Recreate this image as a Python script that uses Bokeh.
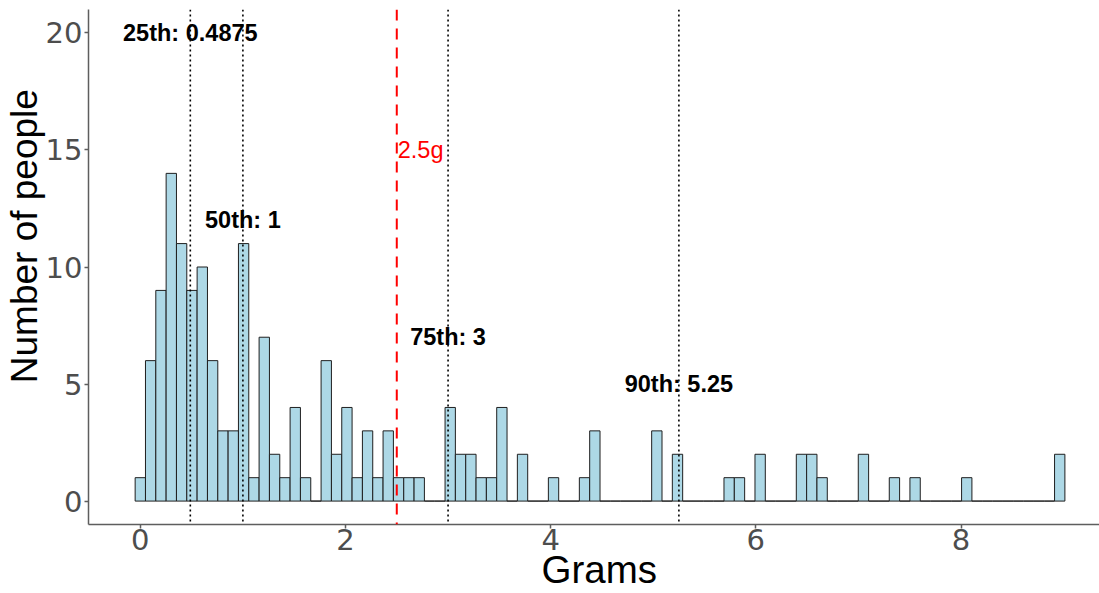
import numpy as np
from bokeh.plotting import figure
from bokeh.models import Span, Range1d
from bokeh.core.properties import value
from bokeh.embed import file_html
from bokeh.resources import INLINE

# ---- data ----
people = [1, 6, 9, 14, 11, 9, 10, 6, 3, 3, 11, 1, 7, 2, 1, 4, 1,
          0,
          6, 2, 4, 1, 3, 1, 3, 1, 1, 1,
          0, 0,
          4, 2, 2, 1, 1, 4, 0, 2,
          0, 0,
          1,
          0, 0,
          1, 3,
          0, 0, 0, 0, 0,
          3, 0, 2,
          0, 0, 0, 0,
          1, 1, 0, 2,
          0, 0, 0,
          2, 2, 1,
          0, 0, 0,
          2, 0, 0, 1, 0, 1,
          0, 0, 0, 0,
          1,
          0, 0, 0, 0, 0, 0, 0, 0,
          2]
bin_width = 0.1007
grams = np.arange(len(people)) * bin_width   # bin midpoints

pct_names = ["25th: 0.4875", "50th: 1", "75th: 3", "90th: 5.25"]
pct_values = [0.4875, 1.0, 3.0, 5.25]
pct_label_y = [20, 12, 7, 5]

limit_value = 2.5
limit_text = "2.5g"
limit_label_y = 15

x_ticks = [0, 2, 4, 6, 8]
y_ticks = [0, 5, 10, 15, 20]

FONT = "Liberation Sans"
TICK_FONT = "DejaVu Sans"
GREY = "#4D4D4D"
AXIS = "#5E5E5E"
NBSP = "\u00a0"

p = figure(width=1099, height=593, output_backend="svg", toolbar_location=None,
           x_range=Range1d(-0.505, 9.35), y_range=Range1d(-1, 21),
           min_border_left=88, min_border_right=0, min_border_top=9,
           min_border_bottom=69)
p.outline_line_color = None
p.grid.visible = False
p.background_fill_color = "white"
p.border_fill_color = "white"

for ax in (p.xaxis[0], p.yaxis[0]):
    ax.major_label_text_font = TICK_FONT
    ax.major_label_text_font_size = "29px"
    ax.major_label_text_color = GREY
    ax.axis_line_color = AXIS
    ax.axis_line_width = 1.5
    ax.major_tick_line_color = AXIS
    ax.major_tick_line_width = 1.5
    ax.major_tick_out = 4
    ax.major_tick_in = 0
    ax.minor_tick_line_color = None
    ax.axis_label_text_font = FONT
    ax.axis_label_text_font_style = "normal"
    ax.axis_label_text_color = "black"
p.xaxis.ticker = x_ticks
p.yaxis.ticker = y_ticks
p.xaxis.major_label_standoff = 0
p.yaxis.major_label_standoff = 2

p.xaxis.axis_label = NBSP + "Grams"
p.xaxis.axis_label_text_font_size = "38.5px"
p.xaxis.axis_label_standoff = -5
p.yaxis.axis_label = NBSP * 6 + "Number of people"
p.yaxis.axis_label_text_font_size = "37px"
p.yaxis.axis_label_standoff = -2

p.vbar(x=grams, width=bin_width, top=people, bottom=0,
       fill_color="#ADD8E6", line_color="#1F1F1F", line_width=1)

for v in pct_values:
    p.add_layout(Span(location=v, dimension="height", line_color="black",
                      line_dash="2 3", line_width=1.6))
p.add_layout(Span(location=limit_value, dimension="height", line_color="red",
                  line_dash="11 8", line_width=2))

p.text(x=pct_values, y=pct_label_y, text=pct_names, text_font=value(FONT),
       text_font_style="bold", text_font_size="23.5px", text_align="center",
       text_baseline="middle", text_color="black")
p.text(x=[limit_value], y=[limit_label_y], text=[limit_text], text_font=value(FONT),
       text_font_size="23.5px", text_align="left", text_baseline="middle",
       text_color="red", x_offset=1)

open("out.html", "w").write(file_html(p, INLINE))
